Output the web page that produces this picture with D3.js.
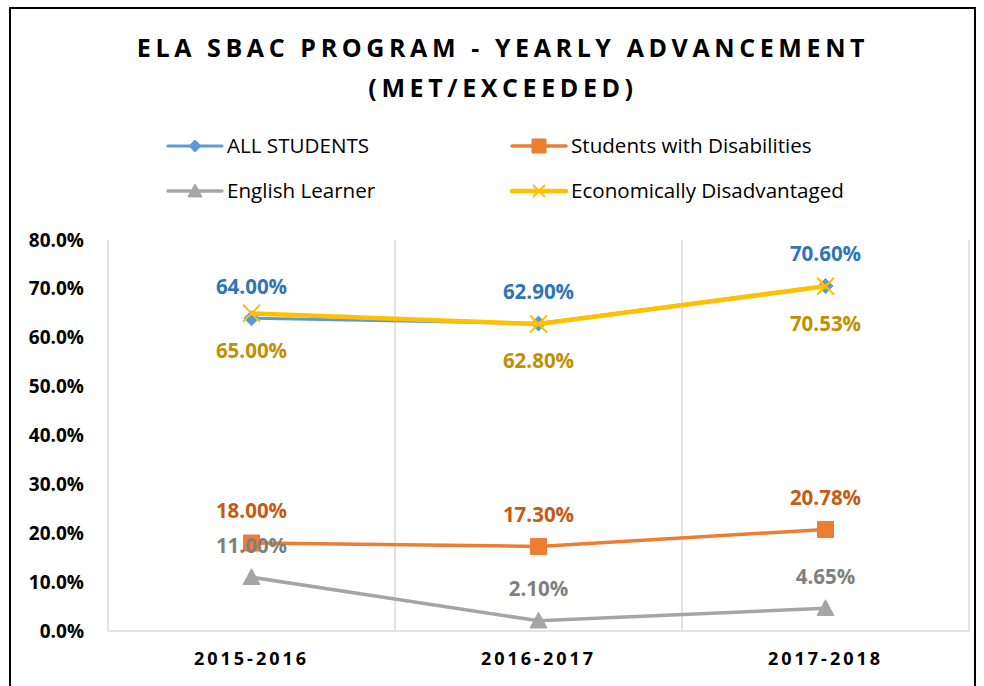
<!DOCTYPE html>
<html>
<head>
<meta charset="utf-8">
<script src="https://cdn.jsdelivr.net/npm/d3@7"></script>
<style>
  html, body { margin: 0; padding: 0; background: #fff; }
  svg { display: block; font-family: "Open Sans", sans-serif; }
</style>
</head>
<body>
<svg id="chart" width="984" height="686"></svg>
<script>
const categories = ["2015-2016", "2016-2017", "2017-2018"];
const allStudents = [0.64, 0.629, 0.706];
const disabilities = [0.18, 0.173, 0.2078];
const englishLearner = [0.11, 0.021, 0.0465];
const econDisadvantaged = [0.65, 0.628, 0.7053];
const allStudentsLabels = ["64.00%", "62.90%", "70.60%"];
const disabilitiesLabels = ["18.00%", "17.30%", "20.78%"];
const englishLearnerLabels = ["11.00%", "2.10%", "4.65%"];
const econLabels = ["65.00%", "62.80%", "70.53%"];
const yTicks = [0, 0.1, 0.2, 0.3, 0.4, 0.5, 0.6, 0.7, 0.8];
const titleLines = ["ELA SBAC PROGRAM - YEARLY ADVANCEMENT", "(MET/EXCEEDED)"];

const series = [
  { name: "ALL STUDENTS", values: allStudents, labels: allStudentsLabels, color: "#5B9BD5", labelColor: "#2E75B6", marker: "diamond", width: 3, labelPos: "above" },
  { name: "Students with Disabilities", values: disabilities, labels: disabilitiesLabels, color: "#ED7D31", labelColor: "#C55A11", marker: "square", width: 3.5, labelPos: "above" },
  { name: "English Learner", values: englishLearner, labels: englishLearnerLabels, color: "#A5A5A5", labelColor: "#7F7F7F", marker: "triangle", width: 3.5, labelPos: "above" },
  { name: "Economically Disadvantaged", values: econDisadvantaged, labels: econLabels, color: "#FFC000", labelColor: "#BF9000", marker: "x", width: 4.5, labelPos: "below" }
];

const svg = d3.select("#chart");
const plot = { left: 108, right: 969, top: 240, bottom: 631 };

// outer border
svg.append("rect").attr("x", 10).attr("y", 8).attr("width", 965).attr("height", 700)
  .attr("fill", "none").attr("stroke", "#000").attr("stroke-width", 2);

// title
svg.append("g").selectAll("text").data(titleLines).join("text")
  .attr("x", 503).attr("y", (d, i) => 57 + i * 40)
  .attr("text-anchor", "middle")
  .attr("font-size", 25).attr("font-weight", 700).attr("letter-spacing", 4.6)
  .attr("fill", "#000").text(d => d);

const x = d3.scaleBand().domain(categories).range([plot.left, plot.right]).padding(0);
const cx = c => x(c) + x.bandwidth() / 2;
const y = d3.scaleLinear().domain([0, 0.8]).range([plot.bottom, plot.top]);

// vertical gridlines at category boundaries
const bounds = categories.map(c => x(c)).concat([plot.right]);
svg.append("g").selectAll("line").data(bounds).join("line")
  .attr("x1", d => d).attr("x2", d => d).attr("y1", plot.top).attr("y2", plot.bottom)
  .attr("stroke", "#D9D9D9").attr("stroke-width", 1.5);
// bottom axis line
svg.append("line").attr("x1", plot.left).attr("x2", plot.right).attr("y1", plot.bottom).attr("y2", plot.bottom)
  .attr("stroke", "#D9D9D9").attr("stroke-width", 1.5);

// y axis labels
const yAxis = d3.axisLeft(y).tickValues(yTicks).tickFormat(d3.format(".1%")).tickSize(0).tickPadding(0);
const yg = svg.append("g").attr("transform", "translate(84,0)").call(yAxis);
yg.select(".domain").remove();
yg.selectAll("text").attr("font-size", 19).attr("font-weight", 700).attr("fill", "#000")
  .attr("font-family", "Open Sans, sans-serif");

// x axis labels
const xAxis = d3.axisBottom(x).tickSize(0).tickPadding(0);
const xg = svg.append("g").attr("transform", "translate(0,652)").call(xAxis);
xg.select(".domain").remove();
xg.selectAll("text").attr("font-size", 18).attr("font-weight", 700).attr("fill", "#000")
  .attr("letter-spacing", 3).attr("font-family", "Open Sans, sans-serif").attr("dy", "0.71em");

function markerPath(type, s) {
  const h = s / 2;
  if (type === "diamond") return `M0,${-h}L${h},0L0,${h}L${-h},0Z`;
  if (type === "square") return `M${-h},${-h}H${h}V${h}H${-h}Z`;
  if (type === "triangle") return `M0,${-h}L${h},${h * 0.85}L${-h},${h * 0.85}Z`;
  if (type === "x") return `M${-h},${-h}L${h},${h}M${h},${-h}L${-h},${h}`;
}
function drawMarker(g, type, size, color) {
  const p = g.append("path").attr("d", markerPath(type, size));
  if (type === "x") p.attr("fill", "none").attr("stroke", color).attr("stroke-width", 2);
  else p.attr("fill", color).attr("stroke", color).attr("stroke-width", 1);
}
const markerSize = { diamond: 15, square: 16, triangle: 17, x: 17 };

const line = d3.line().x(d => cx(d.c)).y(d => y(d.v));
series.forEach(s => {
  const pts = categories.map((c, i) => ({ c, v: s.values[i] }));
  const g = svg.append("g");
  g.append("path").datum(pts).attr("d", line).attr("fill", "none")
    .attr("stroke", s.color).attr("stroke-width", s.width).attr("stroke-linejoin", "round");
  pts.forEach(p => {
    const mg = g.append("g").attr("transform", `translate(${cx(p.c)},${y(p.v)})`);
    drawMarker(mg, s.marker, markerSize[s.marker], s.color);
  });
});

// data labels
series.forEach(s => {
  svg.append("g").selectAll("text").data(categories).join("text")
    .attr("x", c => cx(c))
    .attr("y", (c, i) => y(s.values[i]) + (s.labelPos === "above" ? -32 : 37))
    .attr("dy", "0.36em")
    .attr("text-anchor", "middle").attr("font-size", 20.5).attr("font-weight", 700)
    .attr("fill", s.labelColor).text((c, i) => s.labels[i]);
});

// legend
const legendPos = [[168, 146], [512, 146], [168, 191], [512, 191]];
const legendMarker = { diamond: 12, square: 14, triangle: 14, x: 12 };
series.forEach((s, i) => {
  const [lx, ly] = legendPos[i];
  const g = svg.append("g").attr("transform", `translate(${lx},${ly})`);
  g.append("line").attr("x1", 0).attr("x2", 54).attr("y1", 0).attr("y2", 0)
    .attr("stroke", s.color).attr("stroke-width", s.width).attr("stroke-linecap", "round");
  const mg = g.append("g").attr("transform", "translate(27,0)");
  drawMarker(mg, s.marker, legendMarker[s.marker], s.color);
  g.append("text").attr("x", 59).attr("y", 0).attr("dy", "0.36em")
    .attr("font-size", 20.6).attr("fill", "#000").text(s.name);
});
</script>
</body>
</html>
